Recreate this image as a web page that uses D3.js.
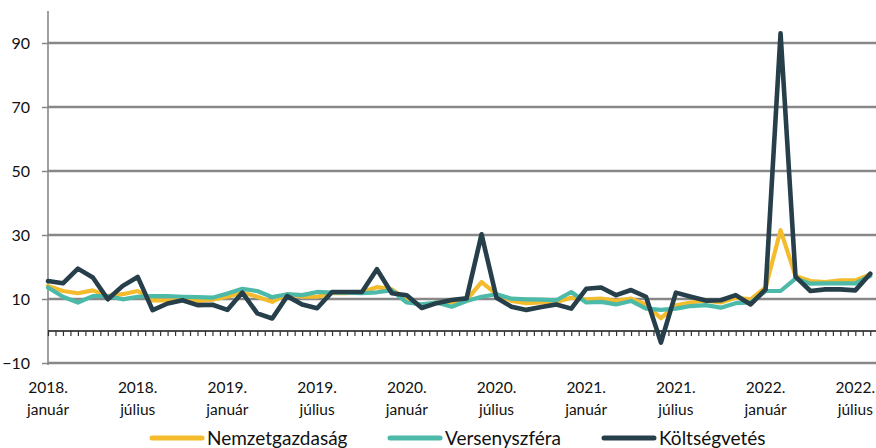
<!DOCTYPE html>
<html>
<head>
<meta charset="utf-8">
<script src="https://cdn.jsdelivr.net/npm/d3@7"></script>
<style>
  body { margin: 0; background: #fff; }
  svg { display: block; font-family: Lato, "Open Sans", sans-serif; }
</style>
</head>
<body>
<svg width="876" height="448"></svg>
<script>
// havi adatok, 2018 január - 2022 augusztus
const months = d3.range(56)
const nemzetgazdasag = [14.1,12.5,11.8,12.7,10.9,11.5,12.5,9.6,9.6,9.7,9.4,9.8,
  10.7,12.0,10.7,9.1,11.5,10.7,10.7,11.8,11.8,12.2,13.7,
  13.0,9.9,7.8,8.9,9.0,9.7,15.3,11.5,9.4,8.7,8.9,
  9.1,10.4,9.9,10.1,9.4,10.1,8.3,4.0,8.0,8.9,9.5,
  8.9,10.4,9.9,13.6,31.5,17.2,15.6,15.3,15.8,15.8,17.7]
const versenyszfera = [13.6,10.7,8.9,10.9,10.9,9.9,10.7,10.9,10.9,10.7,10.6,10.4,
  11.7,13.2,12.5,10.6,11.5,11.2,12.2,12.0,12.0,11.8,12.1,
  12.7,8.9,8.3,8.9,7.6,9.4,10.7,11.5,10.1,9.9,9.8,
  9.6,12.2,8.9,9.1,8.3,9.4,7.0,6.6,7.0,7.8,8.1,
  7.3,8.7,8.9,12.5,12.5,16.4,14.8,14.9,14.9,14.9,17.2]
const koltsegvetes = [15.6,14.9,19.5,16.7,9.9,14.1,16.9,6.5,8.6,9.6,8.1,8.2,
  6.6,12.0,5.5,3.9,10.9,8.3,7.1,12.2,12.2,12.2,19.3,
  11.8,11.2,7.2,8.7,9.7,10.2,30.2,10.4,7.6,6.6,7.5,
  8.3,7.0,13.2,13.6,11.2,12.8,10.7,-3.6,12.0,10.7,9.5,
  9.6,11.2,8.3,13.0,93,17.0,12.5,13.0,13.0,12.7,17.9]

const yTicks = [-10,10,30,50,70,90]
const xLabels = [["2018.","január"],["2018.","július"],["2019.","január"],["2019.","július"],
  ["2020.","január"],["2020.","július"],["2021.","január"],["2021.","július"],
  ["2022.","január"],["2022.","július"]]

const seriesNames = ["Nemzetgazdaság","Versenyszféra","Költségvetés"]
const colors = ["#F4BC2C","#4DB9A8","#263F4A"]

const svg = d3.select('svg')
const left = 48
const step = 14.95

const x = d3.scaleLinear().domain([0,55]).range([left,left+55*step])
const y = d3.scaleLinear().domain([-10,100]).range([363,11])

// rácsvonalak
svg.append('g')
  .selectAll('line')
  .data(yTicks)
  .join('line')
  .attr('x1',left).attr('x2',876)
  .attr('y1',d=>y(d)).attr('y2',d=>y(d))
  .style('stroke','#888')
  .style('stroke-width',2.3)

// y tengely
const yAxis = svg.append('g')
  .attr('transform',`translate(${left},0)`)
  .call(d3.axisLeft(y).tickValues(yTicks).tickSize(6).tickPadding(12).tickFormat(d3.format('d')))
yAxis.select('.domain').style('stroke','#888').style('stroke-width',1.6)
  .attr('d',`M0,${y(100)}V${y(-10)+2}`)
yAxis.selectAll('.tick line').style('stroke','#888').style('stroke-width',1.5)
yAxis.selectAll('.tick text').style('font-size','16px').style('fill','#111')
  .style('font-family','Lato, sans-serif')

// x tengely a nullánál, havi fél lépésű kis jelekkel
const xAxis = svg.append('g')
  .attr('transform',`translate(0,${y(0)})`)
  .call(d3.axisBottom(x).tickValues(d3.range(0,55.6,0.5)).tickSize(5).tickFormat(''))
xAxis.select('.domain').attr('d',`M${left},0H876`).style('stroke','#111').style('stroke-width',1.3)
xAxis.selectAll('.tick line').style('stroke','#333').style('stroke-width',1.2)

// x feliratok
const lbl = svg.append('g')
  .selectAll('text')
  .data(xLabels)
  .join('text')
  .attr('x',(d,i)=>x(i*6))
  .attr('y',393)
  .attr('text-anchor','middle')
  .style('font-size','15.5px')
  .style('fill','#111')
lbl.append('tspan').attr('x',(d,i)=>x(i*6)).text(d=>d[0])
lbl.append('tspan').attr('x',(d,i)=>x(i*6)).attr('dy',22).text(d=>d[1])

// vonalak
const line = d3.line().x((d,i)=>x(i)).y(d=>y(d))
const allSeries = [nemzetgazdasag,versenyszfera,koltsegvetes]
svg.append('g')
  .selectAll('path')
  .data(allSeries)
  .join('path')
  .attr('d',d=>line(d))
  .style('fill','none')
  .style('stroke',(d,i)=>colors[i])
  .style('stroke-width',(d,i)=>i===2?4.6:4.2)
  .style('stroke-linejoin','round')
  .style('stroke-linecap','round')

// jelmagyarázat
const legendX = [150,388,602]
const legend = svg.append('g')
  .selectAll('g')
  .data(seriesNames)
  .join('g')
  .attr('transform',(d,i)=>`translate(${legendX[i]},438)`)
legend.append('line')
  .attr('x1',2).attr('x2',52)
  .style('stroke',(d,i)=>colors[i])
  .style('stroke-width',5)
  .style('stroke-linecap','round')
legend.append('text')
  .attr('x',57)
  .attr('y',7)
  .style('font-size','19px')
  .style('fill','#111')
  .text(d=>d)
</script>
</body>
</html>
